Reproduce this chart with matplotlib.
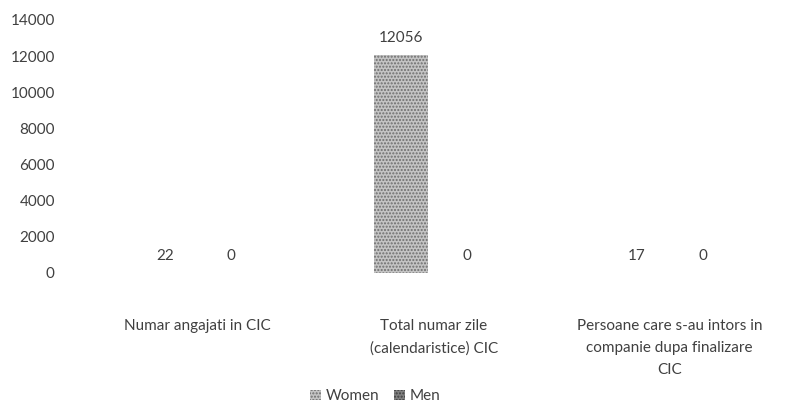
import matplotlib
matplotlib.use("Agg")
import matplotlib.pyplot as plt
import numpy as np

categories = ["Numar angajati in CIC",
              "Total numar zile\n(calendaristice) CIC",
              "Persoane care s-au intors in\ncompanie dupa finalizare\nCIC"]
women = [22, 12056, 17]
men = [0, 0, 0]
yticks = [0, 2000, 4000, 6000, 8000, 10000, 12000, 14000]

plt.rcParams['font.family'] = ['Lato', 'DejaVu Sans']
plt.rcParams['hatch.linewidth'] = 1.0
txt = '#404040'

fig = plt.figure(figsize=(7.9, 4.08), dpi=100)
ax = fig.add_axes([0.101, 0.331, 0.896, 0.620])

x = np.arange(len(categories))
w = 0.23
off = 0.14
bw = ax.bar(x - off, women, w, color='#c4c4c4', edgecolor='#6e6e6e', hatch='.....', linewidth=0, label='Women')
bm = ax.bar(x + off, men, w, color='#808080', edgecolor='#404040', hatch='.....', linewidth=0, label='Men')

for xi, v in zip(x - off, women):
    ax.annotate(str(v), (xi, v), xytext=(0, 7), textcoords='offset points',
                ha='center', va='bottom', fontsize=11, color=txt)
for xi, v in zip(x + off, men):
    ax.annotate(str(v), (xi, v), xytext=(0, 7), textcoords='offset points',
                ha='center', va='bottom', fontsize=11, color=txt)

ax.set_xlim(-0.5, 2.5)
ax.set_ylim(0, 14000)
ax.set_yticks(yticks)
ax.set_yticklabels([str(t) for t in yticks], fontsize=11, color=txt)
ax.set_xticks(x)
ax.set_xticklabels(categories, fontsize=11, color=txt, va='top', linespacing=1.75)
ax.tick_params(axis='both', length=0)
ax.tick_params(axis='x', pad=33)
ax.tick_params(axis='y', pad=18)
for s in ax.spines.values():
    s.set_visible(False)

leg = fig.legend(handles=[bw, bm], labels=['Women', 'Men'], loc='lower center',
                 bbox_to_anchor=(0.475, -0.022), ncol=2, frameon=False, fontsize=11,
                 handlelength=0.7, handleheight=0.7, handletextpad=0.3, columnspacing=1.0)
for t in leg.get_texts():
    t.set_color(txt)

fig.savefig('out.png', dpi=100)
